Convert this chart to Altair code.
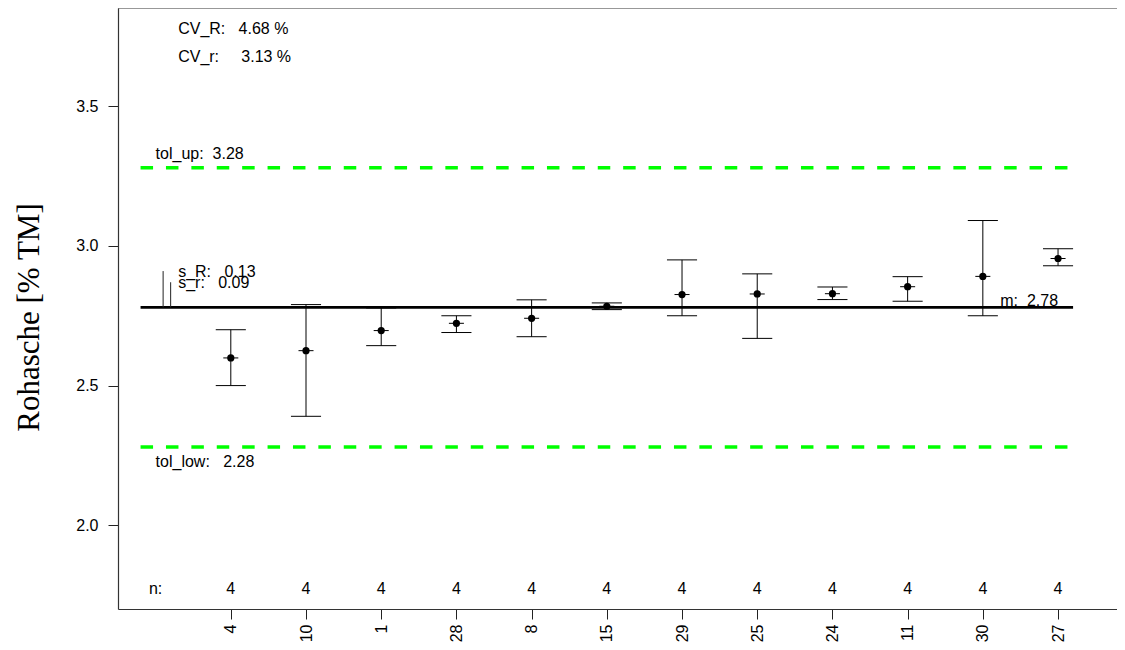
import json
import altair as alt
import pandas as pd

# ---- data ----
labs = ["4", "10", "1", "28", "8", "15", "29", "25", "24", "11", "30", "27"]
means = [2.599, 2.625, 2.697, 2.723, 2.741, 2.784, 2.826, 2.828, 2.829, 2.854, 2.891, 2.955]
lows = [2.500, 2.390, 2.643, 2.690, 2.675, 2.772, 2.750, 2.669, 2.808, 2.802, 2.750, 2.929]
highs = [2.700, 2.790, 2.778, 2.750, 2.807, 2.796, 2.950, 2.900, 2.853, 2.890, 3.091, 2.990]
n_counts = [4, 4, 4, 4, 4, 4, 4, 4, 4, 4, 4, 4]

grand_mean = 2.78
tol_up = 3.28
tol_low = 2.28
s_R = 0.13
s_r = 0.09
cv_R = 4.68
cv_r = 3.13

idx = list(range(1, len(labs) + 1))
NB = "\u00a0"
FONT = "Liberation Sans"
X_MAX = 12.784

df = pd.DataFrame({"i": idx, "lab": labs, "mean": means, "low": lows,
                   "high": highs, "n": [str(v) for v in n_counts]})

xs = alt.Scale(domain=[-0.5, X_MAX], nice=False, zero=False)
ys = alt.Scale(domain=[1.70, 3.852], nice=False, zero=False)

x_axis = alt.Axis(values=idx, labelExpr=json.dumps(labs) + "[datum.value - 1]",
                  tickSize=10, labelAngle=270, labelAlign="right", labelBaseline="middle",
                  labelPadding=5, labelFontSize=16, labelFont=FONT, labelColor="black",
                  tickColor="#222", domainColor="#333", domainWidth=1.2, grid=False,
                  labelOverlap=False, labelFlush=False, title=None)
y_axis = alt.Axis(values=[2.0, 2.5, 3.0, 3.5], format=".1f", tickSize=10, labelPadding=10,
                  labelFontSize=16, labelFont=FONT, labelColor="black", tickColor="#222",
                  domainColor="#333", domainWidth=1.2, grid=False, labelOverlap=False,
                  title="Rohasche [% TM]", titleFont="Liberation Serif", titleFontSize=31,
                  titleFontWeight="normal", titleColor="black", titleAngle=270,
                  titleAlign="center", titleBaseline="alphabetic", titleX=-80, titleY=309)


def X(field):
    return alt.X(field, type="quantitative", scale=xs, axis=x_axis, title=None)


def Y(field):
    return alt.Y(field, type="quantitative", scale=ys, axis=y_axis, title="Rohasche [% TM]")


# horizontal reference lines
tol_df = pd.DataFrame({"x0": [-0.2, -0.2], "x1": [12.2, 12.2], "y": [tol_up, tol_low]})
tol_lines = alt.Chart(tol_df).mark_rule(color="#00ff00", strokeWidth=3.3,
                                        strokeDash=[12.5, 12.9]).encode(
    x=X("x0"), x2="x1", y=Y("y"))

mean_df = pd.DataFrame({"x0": [-0.2], "x1": [12.2], "y": [grand_mean]})
mean_line = alt.Chart(mean_df).mark_rule(color="black", strokeWidth=2.8).encode(
    x=X("x0"), x2="x1", y=Y("y"))

s_df = pd.DataFrame({"x": [0.1, 0.2], "y0": [grand_mean, grand_mean],
                     "y1": [grand_mean + s_R, grand_mean + s_r]})
s_bars = alt.Chart(s_df).mark_rule(color="#222", strokeWidth=1).encode(
    x=X("x"), y=Y("y0"), y2="y1")

# top frame line
top_df = pd.DataFrame({"x0": [-0.5], "x1": [X_MAX], "y": [3.852]})
top_line = alt.Chart(top_df).mark_rule(color="#333", strokeWidth=1.2).encode(
    x=X("x0"), x2="x1", y=Y("y"))

base = alt.Chart(df)
whisk = base.mark_rule(color="black", strokeWidth=1).encode(x=X("i"), y=Y("low"), y2="high")
cap_lo = base.transform_calculate(a="datum.i - 0.2", b="datum.i + 0.2").mark_rule(
    color="black", strokeWidth=1).encode(x=X("a"), x2="b", y=Y("low"))
cap_hi = base.transform_calculate(a="datum.i - 0.2", b="datum.i + 0.2").mark_rule(
    color="black", strokeWidth=1).encode(x=X("a"), x2="b", y=Y("high"))
mid_tick = base.transform_calculate(a="datum.i - 0.1", b="datum.i + 0.1").mark_rule(
    color="black", strokeWidth=1).encode(x=X("a"), x2="b", y=Y("mean"))
pts = base.mark_circle(size=52, color="black", opacity=1).encode(x=X("i"), y=Y("mean"))

# n row
n_row = base.transform_calculate(yy="1.775").mark_text(
    font=FONT, fontSize=16, color="black", align="center", baseline="alphabetic", dy=6).encode(
    x=X("i"), y=Y("yy"), text="n:N")
n_lab = alt.Chart(pd.DataFrame({"x": [0], "y": [1.775], "t": ["n:"]})).mark_text(
    font=FONT, fontSize=16, color="black", align="center", baseline="alphabetic", dy=6).encode(
    x=X("x"), y=Y("y"), text="t:N")

# annotations
ann_df = pd.DataFrame({
    "x": [0.3, 0.3, 0.3, 0.3],
    "y": [3.78, 3.68, grand_mean + s_R, grand_mean + s_r],
    "t": [f"CV_R:{NB*3}{cv_R:.2f}{NB}%", f"CV_r:{NB*5}{cv_r:.2f}{NB}%",
          f"s_R:{NB*3}{s_R:.2f}", f"s_r:{NB*3}{s_r:.2f}"],
})
ann = alt.Chart(ann_df).mark_text(font=FONT, fontSize=16, color="black", align="left",
                                   baseline="alphabetic", dy=6).encode(
    x=X("x"), y=Y("y"), text="t:N")

up_txt = alt.Chart(pd.DataFrame({"x": [0], "y": [tol_up], "t": [f"tol_up:{NB*2}{tol_up:.2f}"]})).mark_text(
    font=FONT, fontSize=16, color="black", align="left", baseline="alphabetic", dy=-8.5).encode(
    x=X("x"), y=Y("y"), text="t:N")
low_txt = alt.Chart(pd.DataFrame({"x": [0], "y": [tol_low], "t": [f"tol_low:{NB*3}{tol_low:.2f}"]})).mark_text(
    font=FONT, fontSize=16, color="black", align="left", baseline="alphabetic", dy=19.5).encode(
    x=X("x"), y=Y("y"), text="t:N")
m_txt = alt.Chart(pd.DataFrame({"x": [12], "y": [grand_mean], "t": [f"m:{NB*2}{grand_mean:.2f}"]})).mark_text(
    font=FONT, fontSize=16, color="black", align="right", baseline="alphabetic", dy=-1).encode(
    x=X("x"), y=Y("y"), text="t:N")

chart = alt.layer(
    tol_lines, mean_line, s_bars, top_line, whisk, cap_lo, cap_hi, mid_tick, pts,
    n_row, n_lab, ann, up_txt, low_txt, m_txt
).properties(
    width=999, height=601,
    padding={"left": 110, "top": 0, "right": 0, "bottom": 33},
    autosize=alt.AutoSizeParams(type="none"),
    background="white",
).configure_view(strokeWidth=0)

chart.save("out.html", embed_options={"renderer": "svg", "actions": False})
